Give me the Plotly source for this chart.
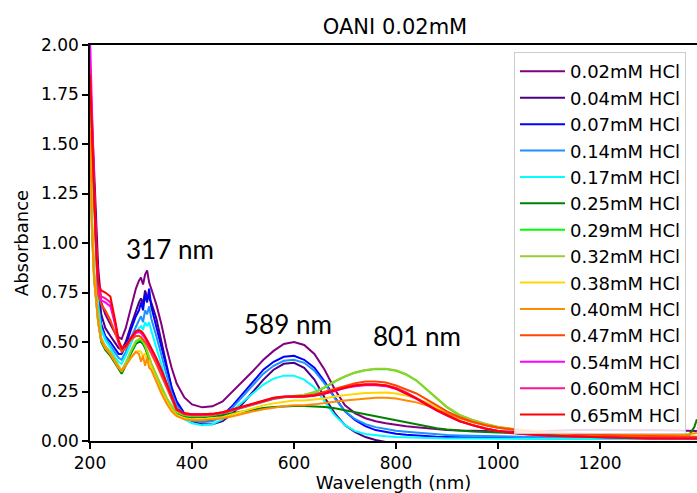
import plotly.graph_objects as go

# Wavelength grid (nm) shared by every spectrum
wavelength = [
    200, 204, 208, 212, 216, 222, 230, 240, 250, 256,
    262, 270, 280, 290, 296, 300, 304, 308, 312, 316,
    320, 330, 340, 350, 360, 370, 385, 400, 420, 440,
    460, 480, 500, 520, 540, 560, 580, 600, 620, 640,
    660, 680, 700, 720, 740, 760, 780, 800, 820, 840,
    860, 880, 900, 925, 950, 975, 1000, 1050, 1100, 1150,
    1200, 1250, 1300, 1350, 1375, 1385, 1390,
]

hcl_002 = [
    1.87, 1.62, 1.35, 1.10, 0.88, 0.70, 0.64, 0.59, 0.54, 0.525,
    0.515, 0.57, 0.67, 0.77, 0.81, 0.825, 0.79, 0.84, 0.862, 0.80,
    0.77, 0.69, 0.59, 0.47, 0.37, 0.29, 0.22, 0.185, 0.17, 0.175,
    0.20, 0.25, 0.30, 0.355, 0.41, 0.455, 0.49, 0.50, 0.485, 0.44,
    0.36, 0.26, 0.18, 0.14, 0.115, 0.10, 0.09, 0.082, 0.075, 0.07,
    0.065, 0.06, 0.056, 0.053, 0.05, 0.05, 0.048, 0.048, 0.05, 0.056,
    0.057, 0.054, 0.056, 0.053, 0.052, 0.05, 0.05,
]
hcl_004 = [
    1.80, 1.58, 1.30, 1.05, 0.80, 0.64, 0.57, 0.53, 0.49, 0.47,
    0.46, 0.50, 0.58, 0.66, 0.70, 0.72, 0.69, 0.76, 0.73, 0.72,
    0.70, 0.62, 0.50, 0.38, 0.27, 0.19, 0.13, 0.10, 0.085, 0.085,
    0.10, 0.14, 0.19, 0.25, 0.31, 0.36, 0.39, 0.395, 0.37, 0.31,
    0.22, 0.14, 0.08, 0.045, 0.02, 0.005, -0.005, -0.01, -0.015, -0.02,
    -0.02, -0.02, -0.02, -0.02, -0.02, -0.02, -0.02, -0.02, -0.02, -0.02,
    -0.02, -0.02, -0.02, -0.02, -0.02, -0.02, -0.02,
]
hcl_007 = [
    1.78, 1.52, 1.25, 1.00, 0.72, 0.59, 0.53, 0.50, 0.46, 0.44,
    0.44, 0.48, 0.56, 0.63, 0.66, 0.70, 0.66, 0.74, 0.70, 0.77,
    0.68, 0.58, 0.47, 0.37, 0.27, 0.20, 0.14, 0.11, 0.10, 0.105,
    0.13, 0.18, 0.24, 0.30, 0.36, 0.40, 0.425, 0.43, 0.41, 0.37,
    0.30, 0.22, 0.15, 0.105, 0.075, 0.055, 0.045, 0.037, 0.032, 0.028,
    0.025, 0.022, 0.02, 0.018, 0.017, 0.016, 0.015, 0.014, 0.013, 0.012,
    0.012, 0.011, 0.011, 0.01, 0.01, 0.01, 0.01,
]
hcl_014 = [
    1.76, 1.50, 1.22, 0.97, 0.70, 0.57, 0.52, 0.48, 0.44, 0.42,
    0.41, 0.45, 0.52, 0.58, 0.61, 0.63, 0.60, 0.66, 0.64, 0.68,
    0.62, 0.53, 0.43, 0.33, 0.24, 0.18, 0.13, 0.105, 0.095, 0.10,
    0.125, 0.17, 0.225, 0.285, 0.34, 0.38, 0.405, 0.41, 0.395, 0.355,
    0.29, 0.215, 0.15, 0.11, 0.085, 0.07, 0.06, 0.052, 0.047, 0.042,
    0.038, 0.034, 0.03, 0.028, 0.026, 0.025, 0.024, 0.022, 0.02, 0.019,
    0.018, 0.017, 0.016, 0.016, 0.015, 0.015, 0.015,
]
hcl_017 = [
    1.74, 1.48, 1.20, 0.95, 0.68, 0.56, 0.51, 0.47, 0.42, 0.40,
    0.39, 0.43, 0.49, 0.55, 0.57, 0.58, 0.56, 0.60, 0.58, 0.60,
    0.56, 0.47, 0.38, 0.29, 0.21, 0.15, 0.11, 0.09, 0.08, 0.085,
    0.11, 0.155, 0.20, 0.245, 0.285, 0.315, 0.33, 0.33, 0.31, 0.27,
    0.20, 0.13, 0.08, 0.05, 0.035, 0.028, 0.024, 0.02, 0.018, 0.016,
    0.015, 0.014, 0.013, 0.012, 0.012, 0.011, 0.011, 0.01, 0.01, 0.01,
    0.01, 0.009, 0.009, 0.009, 0.009, 0.009, 0.009,
]
hcl_025 = [
    1.55, 1.05, 0.82, 0.70, 0.60, 0.50, 0.46, 0.43, 0.39, 0.36,
    0.34, 0.38, 0.44, 0.49, 0.50, 0.50, 0.49, 0.47, 0.44, 0.41,
    0.38, 0.32, 0.26, 0.21, 0.17, 0.14, 0.125, 0.12, 0.12, 0.125,
    0.13, 0.14, 0.15, 0.16, 0.167, 0.172, 0.175, 0.177, 0.177, 0.175,
    0.172, 0.165, 0.155, 0.145, 0.135, 0.125, 0.115, 0.105, 0.095, 0.085,
    0.072, 0.064, 0.058, 0.052, 0.048, 0.045, 0.042, 0.036, 0.032, 0.028,
    0.025, 0.023, 0.021, 0.022, 0.03, 0.07, 0.11,
]
hcl_029 = [
    1.60, 1.10, 0.85, 0.72, 0.62, 0.51, 0.47, 0.44, 0.40, 0.37,
    0.35, 0.39, 0.45, 0.50, 0.51, 0.51, 0.50, 0.48, 0.45, 0.42,
    0.39, 0.33, 0.27, 0.215, 0.175, 0.145, 0.13, 0.125, 0.125, 0.13,
    0.14, 0.155, 0.17, 0.185, 0.20, 0.212, 0.22, 0.225, 0.232, 0.245,
    0.27, 0.30, 0.325, 0.345, 0.357, 0.363, 0.363, 0.355, 0.335, 0.305,
    0.26, 0.21, 0.17, 0.13, 0.105, 0.085, 0.07, 0.052, 0.042, 0.036,
    0.032, 0.028, 0.025, 0.022, 0.02, 0.02, 0.02,
]
hcl_032 = [
    1.62, 1.12, 0.86, 0.73, 0.63, 0.52, 0.48, 0.45, 0.41, 0.38,
    0.355, 0.395, 0.455, 0.505, 0.515, 0.515, 0.505, 0.485, 0.455, 0.425,
    0.395, 0.335, 0.275, 0.22, 0.178, 0.148, 0.132, 0.127, 0.127, 0.132,
    0.142, 0.157, 0.172, 0.187, 0.202, 0.214, 0.222, 0.227, 0.234, 0.247,
    0.272, 0.302, 0.327, 0.347, 0.359, 0.365, 0.365, 0.357, 0.337, 0.307,
    0.262, 0.212, 0.172, 0.132, 0.107, 0.087, 0.072, 0.054, 0.044, 0.038,
    0.033, 0.029, 0.026, 0.023, 0.021, 0.021, 0.021,
]
hcl_038 = [
    1.58, 1.08, 0.83, 0.71, 0.60, 0.51, 0.47, 0.44, 0.40, 0.37,
    0.355, 0.38, 0.42, 0.45, 0.455, 0.45, 0.43, 0.44, 0.41, 0.40,
    0.37, 0.31, 0.25, 0.20, 0.16, 0.13, 0.115, 0.11, 0.11, 0.115,
    0.12, 0.135, 0.15, 0.165, 0.18, 0.19, 0.198, 0.205, 0.205, 0.21,
    0.215, 0.225, 0.232, 0.238, 0.242, 0.245, 0.245, 0.24, 0.23, 0.215,
    0.195, 0.17, 0.145, 0.12, 0.098, 0.08, 0.067, 0.05, 0.04, 0.034,
    0.03, 0.027, 0.025, 0.023, 0.022, 0.022, 0.022,
]
hcl_040 = [
    1.57, 1.07, 0.83, 0.71, 0.60, 0.51, 0.47, 0.44, 0.40, 0.37,
    0.355, 0.38, 0.42, 0.45, 0.44, 0.40, 0.43, 0.38, 0.42, 0.37,
    0.36, 0.30, 0.24, 0.19, 0.15, 0.125, 0.11, 0.105, 0.105, 0.11,
    0.115, 0.125, 0.138, 0.15, 0.16, 0.168, 0.175, 0.18, 0.18, 0.185,
    0.19, 0.198, 0.205, 0.21, 0.215, 0.218, 0.218, 0.215, 0.205, 0.195,
    0.18, 0.16, 0.14, 0.115, 0.095, 0.08, 0.068, 0.055, 0.045, 0.04,
    0.035, 0.032, 0.03, 0.03, 0.035, 0.04, 0.04,
]
hcl_047 = [
    1.82, 1.50, 1.20, 0.95, 0.74, 0.69, 0.66, 0.61, 0.54, 0.49,
    0.45, 0.47, 0.51, 0.53, 0.53, 0.525, 0.515, 0.50, 0.485, 0.465,
    0.445, 0.39, 0.33, 0.27, 0.21, 0.155, 0.135, 0.13, 0.13, 0.132,
    0.14, 0.155, 0.17, 0.186, 0.202, 0.215, 0.222, 0.225, 0.228, 0.235,
    0.25, 0.265, 0.28, 0.292, 0.30, 0.30, 0.295, 0.28, 0.26, 0.24,
    0.21, 0.18, 0.15, 0.12, 0.097, 0.08, 0.067, 0.05, 0.04, 0.035,
    0.03, 0.027, 0.025, 0.022, 0.02, 0.02, 0.02,
]
hcl_054 = [
    2.05, 1.62, 1.28, 1.00, 0.78, 0.71, 0.70, 0.68, 0.58, 0.50,
    0.47, 0.48, 0.52, 0.545, 0.55, 0.545, 0.535, 0.52, 0.50, 0.48,
    0.46, 0.41, 0.35, 0.285, 0.215, 0.16, 0.138, 0.133, 0.133, 0.135,
    0.143, 0.158, 0.173, 0.188, 0.203, 0.215, 0.222, 0.223, 0.224, 0.229,
    0.239, 0.253, 0.267, 0.277, 0.282, 0.282, 0.277, 0.263, 0.24, 0.213,
    0.183, 0.153, 0.128, 0.099, 0.079, 0.062, 0.05, 0.035, 0.027, 0.022,
    0.018, 0.015, 0.013, 0.012, 0.012, 0.012, 0.012,
]
hcl_060 = [
    1.90, 1.58, 1.26, 0.99, 0.79, 0.73, 0.72, 0.70, 0.59, 0.50,
    0.47, 0.48, 0.52, 0.55, 0.555, 0.55, 0.54, 0.525, 0.505, 0.485,
    0.465, 0.415, 0.355, 0.29, 0.22, 0.16, 0.14, 0.135, 0.135, 0.137,
    0.145, 0.16, 0.175, 0.19, 0.205, 0.217, 0.224, 0.225, 0.226, 0.232,
    0.242, 0.256, 0.27, 0.281, 0.287, 0.287, 0.282, 0.268, 0.245, 0.218,
    0.188, 0.157, 0.131, 0.101, 0.081, 0.064, 0.051, 0.036, 0.028, 0.023,
    0.019, 0.016, 0.014, 0.013, 0.013, 0.013, 0.013,
]
hcl_065 = [
    1.85, 1.55, 1.25, 0.98, 0.80, 0.76, 0.75, 0.73, 0.60, 0.51,
    0.47, 0.48, 0.52, 0.555, 0.56, 0.555, 0.545, 0.53, 0.51, 0.49,
    0.47, 0.42, 0.36, 0.29, 0.22, 0.16, 0.14, 0.135, 0.135, 0.137,
    0.145, 0.16, 0.175, 0.19, 0.205, 0.218, 0.225, 0.225, 0.225, 0.23,
    0.24, 0.255, 0.27, 0.28, 0.285, 0.285, 0.28, 0.265, 0.242, 0.215,
    0.185, 0.155, 0.13, 0.10, 0.08, 0.063, 0.05, 0.035, 0.027, 0.022,
    0.018, 0.015, 0.013, 0.012, 0.012, 0.012, 0.012,
]

series_labels = [
    "0.02mM HCl", "0.04mM HCl", "0.07mM HCl", "0.14mM HCl", "0.17mM HCl",
    "0.25mM HCl", "0.29mM HCl", "0.32mM HCl", "0.38mM HCl", "0.40mM HCl",
    "0.47mM HCl", "0.54mM HCl", "0.60mM HCl", "0.65mM HCl",
]
series_values = [
    hcl_002, hcl_004, hcl_007, hcl_014, hcl_017, hcl_025, hcl_029,
    hcl_032, hcl_038, hcl_040, hcl_047, hcl_054, hcl_060, hcl_065,
]
series_colors = [
    "#800080", "#4B0082", "#0000FF", "#1E90FF", "#00FFFF", "#008000", "#00FF00",
    "#9ACD32", "#FFD700", "#FF8C00", "#FF4500", "#FF00FF", "#FF1493", "#FF0000",
]

# Band positions marked on the chart: (label, wavelength, absorbance)
band_labels = [("317 nm", 357, 0.97), ("589 nm", 588, 0.592), ("801 nm", 841, 0.53)]

fig = go.Figure()
for label, values, color in zip(series_labels, series_values, series_colors):
    fig.add_trace(go.Scatter(
        x=wavelength, y=values, name=label, mode="lines",
        line=dict(color=color, width=2),
    ))

for text, wl, absorb in band_labels:
    fig.add_annotation(
        x=wl, y=absorb, xref="x", yref="y", text=text, showarrow=False,
        font=dict(family="Lato", size=26, color="#000000"),
        xanchor="center", yanchor="middle",
    )

axis_font = dict(family="DejaVu Sans", size=17, color="#000000")
fig.update_layout(
    width=697, height=493,
    margin=dict(l=90, r=0, t=45, b=52),
    paper_bgcolor="white", plot_bgcolor="white",
    font=dict(family="DejaVu Sans", color="#000000"),
    title=dict(
        text="OANI 0.02mM", x=0.5025, xref="paper", xanchor="center",
        y=(493 - 27) / 493, yref="container", yanchor="middle",
        font=dict(family="DejaVu Sans", size=21, color="#000000"),
    ),
    showlegend=True,
    legend=dict(
        x=0.6985, y=0.982, xanchor="left", yanchor="top",
        bgcolor="rgba(255,255,255,0.85)", bordercolor="#cccccc", borderwidth=1,
        font=dict(family="DejaVu Sans", size=18, color="#000000"),
        tracegroupgap=0, itemwidth=45,
    ),
)
fig.update_xaxes(
    range=[200, 1390.2], tickvals=[200, 400, 600, 800, 1000, 1200],
    showline=True, linecolor="#000000", linewidth=1.5, mirror=True,
    ticks="outside", ticklen=6, tickwidth=1.5, tickcolor="#000000",
    tickfont=axis_font, showgrid=False, zeroline=False, automargin=False,
    title=dict(text="Wavelength (nm)", font=dict(family="DejaVu Sans", size=18), standoff=14),
)
fig.update_yaxes(
    range=[0, 2], tickvals=[0, 0.25, 0.5, 0.75, 1.0, 1.25, 1.5, 1.75, 2.0],
    tickformat=".2f",
    showline=True, linecolor="#000000", linewidth=1.5, mirror=False,
    ticks="outside", ticklen=6, tickwidth=1.5, tickcolor="#000000",
    tickfont=axis_font, showgrid=False, zeroline=False, automargin=False,
    title=dict(text="Absorbance", font=dict(family="DejaVu Sans", size=18), standoff=8),
)

fig.write_html("out.html")
